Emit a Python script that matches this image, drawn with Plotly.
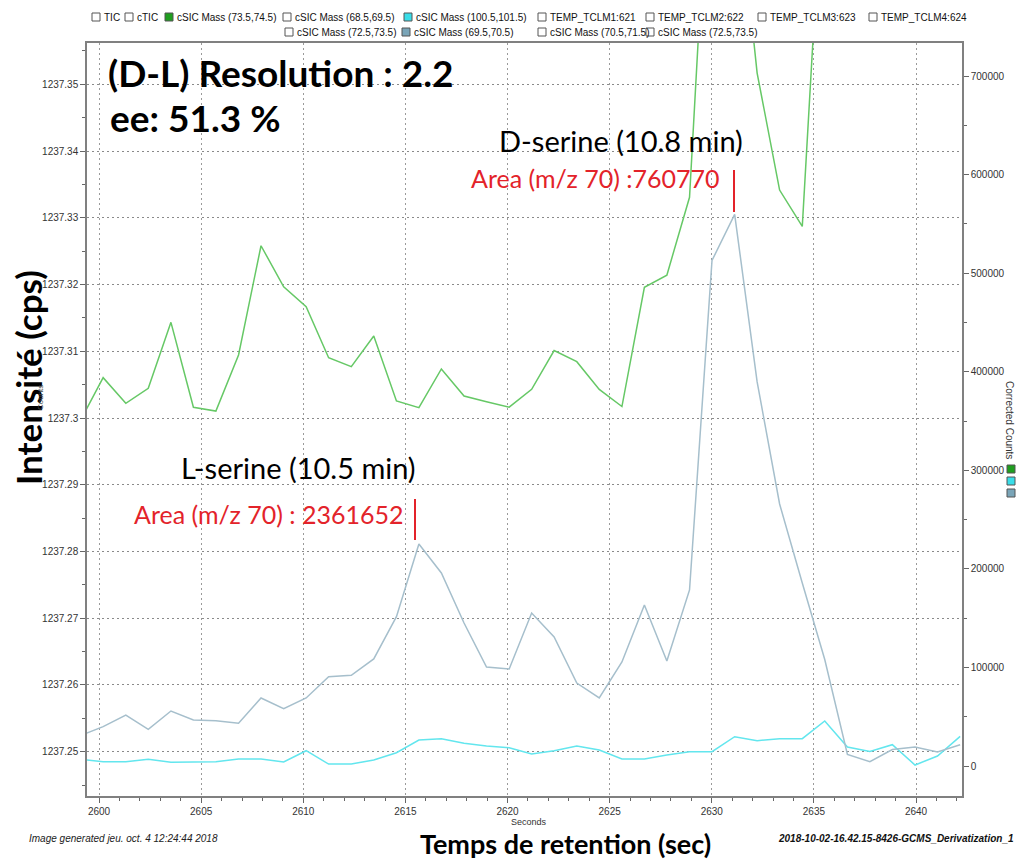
import plotly.graph_objects as go

# ---------------- data ----------------
time_s = [2599.10, 2600.20, 2601.31, 2602.41, 2603.52, 2604.62, 2605.72, 2606.83,
          2607.93, 2609.04, 2610.14, 2611.24, 2612.35, 2613.45, 2614.56, 2615.66,
          2616.76, 2617.87, 2618.97, 2620.08, 2621.18, 2622.28, 2623.39, 2624.49,
          2625.60, 2626.70, 2627.80, 2628.91, 2630.01, 2631.12, 2632.22, 2633.32,
          2634.43, 2635.53, 2636.64, 2637.74, 2638.84, 2639.95, 2641.05, 2642.16]

mz74_counts = [351000, 394000, 368000, 383200, 450100, 363900, 360100, 417000,
               527800, 486200, 466000, 414200, 405100, 436200, 370300, 363500,
               402800, 375400, 369600, 364000, 382100, 421500, 410200, 382100,
               364700, 485600, 498000, 577000, 990000, 919000, 703000, 584300,
               547400, 944500, 1150000, 1300000, 1250000, 1100000, 980000, 900000]

mz101_counts = [6800, 4400, 4400, 6800, 3800, 3800, 4400, 7100,
                7100, 4100, 15500, 2000, 2000, 6100, 13500, 26400,
                27700, 23000, 20300, 18600, 12200, 15500, 20300, 16200,
                7100, 7100, 11200, 14500, 14500, 29700, 25700, 27700,
                27700, 45700, 19300, 14700, 21600, 1000, 10100, 30000]

mz70_counts = [30900, 39900, 51700, 37200, 55800, 46700, 46000, 43300,
               69000, 58100, 69000, 90600, 92000, 108600, 151500, 225200,
               195800, 145100, 100400, 98400, 155200, 130900, 84200, 69000,
               105500, 163300, 106500, 178600, 512800, 559700, 389600, 265800,
               185700, 108000, 11800, 4400, 16700, 19300, 14200, 21600]

series_names = ["cSIC Mass (73.5,74.5)", "cSIC Mass (100.5,101.5)", "cSIC Mass (69.5,70.5)"]

left_tick_vals = [1237.25, 1237.26, 1237.27, 1237.28, 1237.29, 1237.30,
                  1237.31, 1237.32, 1237.33, 1237.34, 1237.35]
left_tick_text = ["1237.25", "1237.26", "1237.27", "1237.28", "1237.29", "1237.3",
                  "1237.31", "1237.32", "1237.33", "1237.34", "1237.35"]
left_minor_vals = [1237.245, 1237.255, 1237.265, 1237.275, 1237.285, 1237.295,
                   1237.305, 1237.315, 1237.325, 1237.335, 1237.345, 1237.355]
right_tick_vals = [0, 100000, 200000, 300000, 400000, 500000, 600000, 700000]
x_tick_vals = [2600, 2605, 2610, 2615, 2620, 2625, 2630, 2635, 2640]

legend_row1 = ["TIC", "cTIC", "cSIC Mass (73.5,74.5)", "cSIC Mass (68.5,69.5)",
               "cSIC Mass (100.5,101.5)", "TEMP_TCLM1:621", "TEMP_TCLM2:622",
               "TEMP_TCLM3:623", "TEMP_TCLM4:624"]
legend_row2 = ["cSIC Mass (72.5,73.5)", "cSIC Mass (69.5,70.5)",
               "cSIC Mass (70.5,71.5)", "cSIC Mass (72.5,73.5)"]

# ---------------- styling ----------------
W, H = 1018, 861
L, R, T, B = 87, 962, 43, 796
def px(x):
    return (x - L) / (R - L)
def py(y):
    return (B - y) / (B - T)

line_colors = ["#66c866", "#63e6ee", "#a6bfcc"]
box_colors = ["#1f9e1f", "#39dde8", "#7aa5b8"]
RED = "#e3232a"
TICKFONT = dict(family="Liberation Sans, Arial", size=10, color="#333333")
GRIDDASH = "2px,3px"

fig = go.Figure()
# trace on the left ("Counts") axis so that it is drawn; it holds no visible points
fig.add_trace(go.Scatter(x=[None], y=[None], yaxis="y", mode="lines",
                         showlegend=False, hoverinfo="skip"))
for name, vals, col in zip(series_names, [mz74_counts, mz101_counts, mz70_counts], line_colors):
    fig.add_trace(go.Scatter(x=time_s, y=vals, mode="lines", name=name, yaxis="y2",
                             line=dict(color=col, width=1.5), showlegend=False))

fig.update_layout(
    width=W, height=H,
    margin=dict(l=L, r=W - R, t=T, b=H - B, pad=0),
    paper_bgcolor="white", plot_bgcolor="white",
    showlegend=False,
    xaxis=dict(range=[2599.41, 2642.25], tickmode="array", tickvals=x_tick_vals,
               ticks="outside", ticklen=5, tickcolor="#666", tickfont=TICKFONT,
               showline=True, linecolor="#808080", linewidth=1.5, mirror=True,
               zeroline=False, showgrid=True, gridcolor="#9a9a9a", griddash=GRIDDASH, gridwidth=1,
               minor=dict(dtick=1, tick0=2600, ticks="outside", ticklen=3, tickcolor="#666", showgrid=False)),
    yaxis=dict(range=[1237.24336, 1237.35619], tickmode="array",
               tickvals=left_tick_vals, ticktext=left_tick_text,
               ticks="outside", ticklen=5, tickcolor="#666", tickfont=TICKFONT,
               showline=True, linecolor="#808080", linewidth=1.5,
               zeroline=False, showgrid=True, gridcolor="#8a8a8a", griddash=GRIDDASH, gridwidth=1.3,
               minor=dict(tickmode="array", tickvals=left_minor_vals,
                          ticks="outside", ticklen=3, tickcolor="#666", showgrid=False)),
    yaxis2=dict(range=[-30435, 733489], overlaying="y", side="right",
                tickmode="array", tickvals=right_tick_vals, tickformat="d",
                ticks="outside", ticklen=5, tickcolor="#666", tickfont=TICKFONT,
                showline=True, linecolor="#808080", linewidth=1.5,
                showgrid=False, zeroline=False,
                minor=dict(dtick=50000, tick0=0, ticks="outside", ticklen=3, tickcolor="#666")),
)

ann = []
def text(x, y, s, size, color="black", family="Lato", xanchor="left", yanchor="middle", angle=0, bold=False, italic=False):
    if bold:
        s = "<b>" + s + "</b>"
    if italic:
        s = "<i>" + s + "</i>"
    ann.append(dict(x=px(x), y=py(y), xref="paper", yref="paper", text=s, showarrow=False,
                    xanchor=xanchor, yanchor=yanchor, textangle=angle,
                    font=dict(family=family, size=size, color=color)))

# big annotations
text(106, 73, "(D-L) Resolution : 2.2", 37, bold=True)
text(108, 117, "ee: 51.3 %", 37, bold=True)
text(497, 140, "D-serine (10.8 min)", 29)
text(469, 178, "Area (m/z 70) :760770", 25, color=RED)
text(179, 468, "L-serine (10.5 min)", 29)
text(132, 514, "Area (m/z 70) : 2361652", 25, color=RED)
text(28, 378, "Intensité (cps)", 35, xanchor="center", angle=-90, bold=True)
text(565, 843, "Temps de retention (sec)", 27, xanchor="center", bold=True)

# small chart texts
text(40, 398, "Counts", 8, color="#444", family="Liberation Sans", xanchor="center", angle=-90)
text(529, 822, "Seconds", 9, color="#333", family="Liberation Sans", xanchor="center")
text(27, 838, "Image generated jeu. oct. 4 12:24:44 2018", 10, color="#222", family="Liberation Sans", italic=True)
text(1016, 838, "2018-10-02-16.42.15-8426-GCMS_Derivatization_1", 10, color="#111",
     family="Liberation Sans", xanchor="right", bold=True, italic=True)
text(1010, 420, "Corrected Counts", 10, color="#333", family="Liberation Sans", xanchor="center", angle=90)

shapes = []
def box(x, y, fill, size=8):
    shapes.append(dict(type="rect", xref="paper", yref="paper",
                       x0=px(x), x1=px(x + size), y0=py(y + size / 2), y1=py(y - size / 2),
                       line=dict(color="#555", width=1), fillcolor=fill))

# right-side colour key
for yy, c in zip([469, 481, 493], box_colors):
    box(1007, yy, c)

# top legend
row1_x = [92, 125, 165, 283, 404, 538, 646, 758, 869]
row1_fill = ["white", "white", box_colors[0], "white", box_colors[1], "white", "white", "white", "white"]
for x, lab, f in zip(row1_x, legend_row1, row1_fill):
    box(x, 17, f)
    text(x + 10, 17, lab, 10, color="#111", family="Liberation Sans")
row2_x = [285, 402, 538, 646]
row2_fill = ["white", box_colors[2], "white", "white"]
for x, lab, f in zip(row2_x, legend_row2, row2_fill):
    box(x, 32, f)
    text(x + 10, 32, lab, 10, color="#111", family="Liberation Sans")

# red markers
shapes.append(dict(type="line", xref="paper", yref="paper", x0=px(734), x1=px(734),
                   y0=py(170), y1=py(212), line=dict(color=RED, width=2)))
shapes.append(dict(type="line", xref="paper", yref="paper", x0=px(415), x1=px(415),
                   y0=py(499), y1=py(540), line=dict(color=RED, width=2)))

fig.update_layout(annotations=ann, shapes=shapes)
fig.write_html("out.html", config={"displayModeBar": False},
               post_script="document.body.style.margin='0';")
